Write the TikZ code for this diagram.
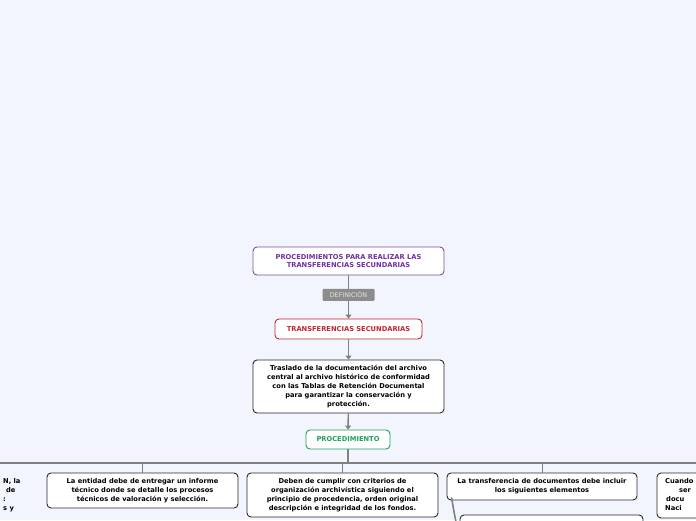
\documentclass[tikz,border=0pt]{standalone}
\usepackage{fontspec}
\setmainfont{DejaVu Sans}
\usetikzlibrary{arrows.meta,calc}
\definecolor{bgc}{RGB}{242,245,253}
\definecolor{purp}{RGB}{112,48,160}
\definecolor{purb}{RGB}{126,74,168}
\definecolor{redc}{RGB}{192,38,45}
\definecolor{grnc}{RGB}{30,160,90}
\definecolor{linec}{RGB}{128,128,128}
\definecolor{labc}{RGB}{140,140,140}
\definecolor{boxb}{RGB}{40,40,40}
\tikzset{
  box/.style={draw=boxb, fill=white, rounded corners=4pt, line width=0.9pt, align=center,
    font=\fontsize{6.7}{8.8}\selectfont\bfseries, inner sep=2pt},
  conn/.style={draw=linec, line width=1.4pt},
  arr/.style={conn, -{Triangle[length=4pt,width=6pt]}},
  frag/.style={anchor=north west, align=left, inner sep=0pt, font=\fontsize{6.7}{8.8}\selectfont\bfseries},
}
\begin{document}
\begin{tikzpicture}[x=1pt,y=-1pt]
\fill[bgc] (0,0) rectangle (696,520);
\useasboundingbox (0,0) rectangle (696,520);
\clip (0,0) rectangle (696,520);

\node[box, draw=purb, text=purp, minimum width=191pt, minimum height=28pt] (top) at (348.5,261) {PROCEDIMIENTOS PARA REALIZAR LAS\\TRANSFERENCIAS SECUNDARIAS};
\node[box, draw=redc, text=redc, minimum width=147pt, minimum height=20pt] (trans) at (348.5,329) {TRANSFERENCIAS SECUNDARIAS};
\node[box, minimum width=191pt, minimum height=53pt] (tras) at (348.5,386.5) {Traslado de la documentación del archivo\\central al archivo histórico de conformidad\\con las Tablas de Retención Documental\\para garantizar la conservación y\\protección.};
\node[box, draw=grnc, text=grnc, minimum width=84pt, minimum height=19pt] (proc) at (348,439.5) {PROCEDIMIENTO};

\draw[arr] (top) -- (trans) node[pos=0.45, fill=labc, text=white!90!black, rounded corners=1pt, minimum width=52pt, minimum height=12pt, inner sep=1pt, font=\fontsize{6.4}{7}\selectfont] (def) {DEFINICIÓN};
\draw[arr] (trans) -- (tras);
\draw[arr] (tras) -- (proc);

\coordinate (hl) at (0,463);
\coordinate (hr) at (696,463);
\coordinate (hm) at (348,463);
\draw[conn] (proc.south) -- (hm);
\draw[conn, line width=1.2pt] (hl) -- (hr);

\node[box, minimum width=191pt, minimum height=35pt] (b2) at (142.5,490.5) {La entidad debe de entregar un informe\\técnico donde se detalle los procesos\\técnicos de valoración y selección.};
\node[box, minimum width=191pt, minimum height=44pt] (b4) at (342.5,495) {Deben de cumplir con criterios de\\organización archivística siguiendo el\\principio de procedencia, orden original\\descripción e integridad de los fondos.};
\node[box, minimum width=190pt, minimum height=27pt] (b5) at (542,486.5) {La transferencia de documentos debe incluir\\los siguientes elementos};
\node[box, minimum width=183pt, minimum height=30pt] (b6) at (551.5,530) {};
\node[box, minimum width=190pt, minimum height=60pt] (b1) at (-150,503) {};
\node[box, minimum width=190pt, minimum height=45pt] (b7) at (752,495.5) {};
\node[frag] (t1) at (3,478.5) {N, la\\\hspace*{3pt}de\\:\\s y};
\node[frag] (t7) at (665,478.5) {Cuando\\\hspace*{14pt}ser\\\hspace*{1pt}docu\\Naci};

\draw[conn, line width=1pt] (hm-|b2.north) -- (b2.north);
\draw[conn, line width=1pt] (hm-|b4.north) -- (b4.north);
\draw[conn, line width=1pt] (hm-|b5.north) -- (b5.north);
\draw[conn, line width=1pt] (hm-|b1.north) -- (b1.north);
\draw[conn, line width=1pt] (hm-|b7.north) -- (b7.north);

\coordinate (cs) at ($(b5.south west)+(5,-3)$);
\coordinate (ce) at ($(b6.west)+(0,6)$);
\draw[conn, line width=1.6pt] (cs) .. controls ($(cs)+(2,12)$) and ($(ce)+(-4,-14)$) .. (ce);
\end{tikzpicture}
\end{document}
